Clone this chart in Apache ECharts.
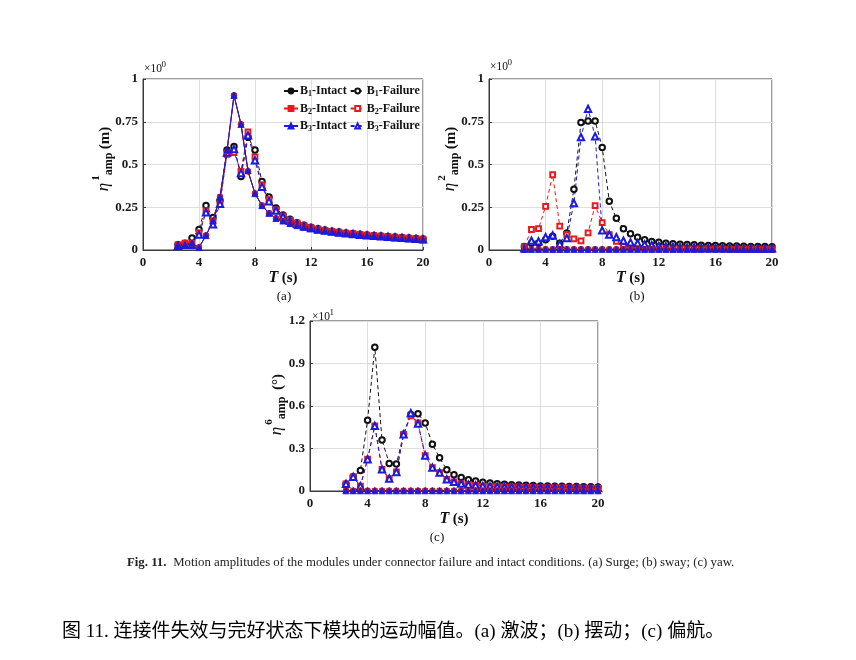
<!DOCTYPE html>
<html><head><meta charset="utf-8">
<script src="https://cdn.jsdelivr.net/npm/echarts@6/dist/echarts.min.js"></script>
<style>html,body{margin:0;padding:0;background:#fff}#c{width:856px;height:660px}</style>
</head><body><div id="c"></div>
<script>
// ---- data ----
const T = [2.5,3,3.5,4,4.5,5,5.5,6,6.5,7,7.5,8,8.5,9,9.5,10,10.5,11,11.5,12,12.5,13,13.5,14,14.5,15,15.5,16,16.5,17,17.5,18,18.5,19,19.5,20];
const xTicks = [0,4,8,12,16,20];
const yTicksAB = [0,0.25,0.5,0.75,1];
const yTicksC = [0,0.3,0.6,0.9,1.2];
const names = ['B1-Intact','B1-Failure','B2-Intact','B2-Failure','B3-Intact','B3-Failure'];

// (a) surge
const aB1I = [0.03,0.03,0.035,0.015,0.085,0.17,0.31,0.58,0.905,0.735,0.46,0.33,0.26,0.215,0.185,0.17,0.155,0.143,0.133,0.125,0.118,0.112,0.106,0.101,0.097,0.093,0.089,0.085,0.082,0.079,0.076,0.071,0.068,0.066,0.063,0.06];
const aB2I = [0.03,0.04,0.035,0.015,0.085,0.17,0.31,0.575,0.9,0.735,0.46,0.33,0.26,0.215,0.185,0.17,0.155,0.143,0.133,0.125,0.118,0.112,0.106,0.101,0.097,0.093,0.089,0.085,0.082,0.079,0.076,0.071,0.068,0.066,0.063,0.06];
const aB3I = [0.03,0.03,0.04,0.015,0.085,0.17,0.31,0.585,0.905,0.735,0.465,0.33,0.26,0.215,0.185,0.17,0.155,0.143,0.133,0.125,0.118,0.112,0.106,0.101,0.097,0.093,0.089,0.085,0.082,0.079,0.076,0.071,0.068,0.066,0.063,0.06];
const aB1F = [0.03,0.04,0.07,0.12,0.26,0.19,0.29,0.585,0.605,0.43,0.66,0.585,0.40,0.31,0.245,0.205,0.18,0.16,0.145,0.133,0.124,0.117,0.11,0.105,0.1,0.096,0.092,0.088,0.085,0.082,0.079,0.076,0.073,0.07,0.067,0.064];
const aB2F = [0.03,0.04,0.04,0.1,0.23,0.17,0.28,0.56,0.57,0.46,0.69,0.545,0.38,0.295,0.235,0.2,0.175,0.157,0.142,0.131,0.122,0.115,0.109,0.104,0.099,0.095,0.091,0.087,0.084,0.081,0.078,0.075,0.072,0.069,0.066,0.063];
const aB3F = [0.025,0.03,0.03,0.09,0.22,0.15,0.27,0.57,0.59,0.45,0.67,0.525,0.37,0.285,0.23,0.195,0.17,0.153,0.139,0.128,0.12,0.113,0.107,0.102,0.097,0.093,0.089,0.086,0.083,0.08,0.077,0.074,0.071,0.068,0.065,0.062];

// (b) sway
const bB1I = [0.004,0.004,0.004,0.004,0.004,0.004,0.004,0.004,0.004,0.004,0.004,0.004,0.004,0.004,0.004,0.004,0.004,0.004,0.004,0.004,0.004,0.004,0.004,0.004,0.004,0.004,0.004,0.004,0.004,0.004,0.004,0.004,0.004,0.004,0.004,0.004];
const bB2I = [0.004,0.004,0.004,0.004,0.004,0.004,0.004,0.004,0.004,0.004,0.004,0.004,0.004,0.004,0.004,0.004,0.004,0.004,0.004,0.004,0.004,0.004,0.004,0.004,0.004,0.004,0.004,0.004,0.004,0.004,0.004,0.004,0.004,0.004,0.004,0.004];
const bB3I = [0.004,0.004,0.004,0.004,0.004,0.004,0.004,0.004,0.004,0.004,0.004,0.004,0.004,0.004,0.004,0.004,0.004,0.004,0.004,0.004,0.004,0.004,0.004,0.004,0.004,0.004,0.004,0.004,0.004,0.004,0.004,0.004,0.004,0.004,0.004,0.004];
const bB1F = [0.02,0.04,0.04,0.06,0.08,0.04,0.1,0.355,0.745,0.755,0.755,0.6,0.285,0.185,0.125,0.095,0.075,0.06,0.05,0.045,0.04,0.037,0.034,0.032,0.03,0.028,0.027,0.026,0.025,0.024,0.023,0.022,0.021,0.02,0.02,0.019];
const bB2F = [0.02,0.12,0.125,0.255,0.44,0.14,0.09,0.065,0.053,0.1,0.26,0.16,0.09,0.05,0.02,0.015,0.012,0.01,0.009,0.008,0.008,0.007,0.007,0.007,0.006,0.006,0.006,0.006,0.006,0.005,0.005,0.005,0.005,0.005,0.005,0.005];
const bB3F = [0.01,0.055,0.05,0.075,0.085,0.035,0.07,0.275,0.66,0.825,0.665,0.115,0.09,0.075,0.055,0.045,0.04,0.033,0.028,0.024,0.021,0.019,0.017,0.016,0.015,0.014,0.013,0.012,0.012,0.011,0.011,0.01,0.01,0.01,0.01,0.01];

// (c) yaw (x10)
const cB1I = [0.002,0.002,0.002,0.002,0.002,0.002,0.002,0.002,0.002,0.002,0.002,0.002,0.002,0.002,0.002,0.002,0.002,0.002,0.002,0.002,0.002,0.002,0.002,0.002,0.002,0.002,0.002,0.002,0.002,0.002,0.002,0.002,0.002,0.002,0.002,0.002];
const cB2I = [0.002,0.002,0.002,0.002,0.002,0.002,0.002,0.002,0.002,0.002,0.002,0.002,0.002,0.002,0.002,0.002,0.002,0.002,0.002,0.002,0.002,0.002,0.002,0.002,0.002,0.002,0.002,0.002,0.002,0.002,0.002,0.002,0.002,0.002,0.002,0.002];
const cB3I = [0.002,0.002,0.002,0.002,0.002,0.002,0.002,0.002,0.002,0.002,0.002,0.002,0.002,0.002,0.002,0.002,0.002,0.002,0.002,0.002,0.002,0.002,0.002,0.002,0.002,0.002,0.002,0.002,0.002,0.002,0.002,0.002,0.002,0.002,0.002,0.002];
const cB1F = [0.05,0.1,0.145,0.5,1.015,0.36,0.195,0.19,0.4,0.54,0.545,0.48,0.33,0.235,0.15,0.115,0.095,0.08,0.07,0.062,0.056,0.052,0.048,0.045,0.042,0.04,0.038,0.036,0.035,0.034,0.033,0.032,0.031,0.03,0.03,0.029];
const cB2F = [0.05,0.1,0.035,0.224,0.46,0.153,0.087,0.134,0.4,0.53,0.48,0.25,0.165,0.13,0.082,0.064,0.052,0.045,0.04,0.035,0.032,0.03,0.029,0.028,0.027,0.026,0.025,0.024,0.024,0.023,0.023,0.022,0.022,0.021,0.021,0.021];
const cB3F = [0.05,0.1,0.035,0.224,0.46,0.153,0.087,0.134,0.4,0.55,0.475,0.25,0.165,0.13,0.082,0.064,0.052,0.045,0.04,0.035,0.032,0.03,0.029,0.028,0.027,0.026,0.025,0.024,0.024,0.023,0.023,0.022,0.022,0.021,0.021,0.021];

// ---- styling ----
const SERIF = '"Liberation Serif","Times New Roman",serif';
const COL = {B1:'#111111', B2:'#e8191c', B3:'#1a1ae0'};
const SHAPE = {B1:'circle', B2:'rect', B3:'triangle'};
const SIZE = {B1:5.5, B2:4.8, B3:6.3};

function pairs(v){ return T.map((t,i)=>[t,v[i]]); }
function mk(name, vals, gi){
  const b = name.slice(0,2), intact = name.indexOf('Intact')>0;
  const c = COL[b];
  return {
    name, type:'line', xAxisIndex:gi, yAxisIndex:gi, data:pairs(vals),
    symbol: intact ? SHAPE[b] : 'empty'+SHAPE[b][0].toUpperCase()+SHAPE[b].slice(1),
    symbolSize: SIZE[b], showAllSymbol:true,
    itemStyle:{color:c, borderColor:c, borderWidth:0.8},
    lineStyle:{color:c, width:1, type: intact?'solid':[4,3]},
    z: intact?3:2, animation:false
  };
}
const panels = [
  {F:[aB1F,aB2F,aB3F], I:[aB1I,aB2I,aB3I]},
  {F:[bB1F,bB2F,bB3F], I:[bB1I,bB2I,bB3I]},
  {F:[cB1F,cB2F,cB3F], I:[cB1I,cB2I,cB3I]}
];
const series = [];
panels.forEach((p,gi)=>{
  ['B1','B2','B3'].forEach((b,k)=>series.push(mk(b+'-Failure', p.F[k], gi)));
  ['B1','B2','B3'].forEach((b,k)=>series.push(mk(b+'-Intact', p.I[k], gi)));
});

const grids = [
  {left:143, top:79, width:280, height:171},
  {left:489, top:79, width:283, height:171},
  {left:310, top:321, width:288, height:170}
].map(g=>Object.assign(g,{show:true, borderColor:'#3a3a3a', borderWidth:1, backgroundColor:'#fff'}));

const tickFont = {fontFamily:SERIF, fontWeight:'bold', fontSize:13, color:'#1a1a1a'};
const xAxes = [0,1,2].map(i=>({
  type:'value', gridIndex:i, min:xTicks[0], max:xTicks[xTicks.length-1], interval:xTicks[1]-xTicks[0],
  axisLine:{show:true, onZero:false, lineStyle:{color:'#3a3a3a'}},
  axisTick:{show:true, inside:true, length:3, lineStyle:{color:'#3a3a3a'}},
  axisLabel:Object.assign({margin:6}, tickFont),
  splitLine:{show:true, lineStyle:{color:'#dedede'}},
  name:'{i|T} {b|(s)}', nameLocation:'middle', nameGap:19,
  nameTextStyle:{verticalAlign:'top', rich:{
    i:{fontFamily:SERIF, fontStyle:'italic', fontWeight:'bold', fontSize:16, color:'#111'},
    b:{fontFamily:SERIF, fontWeight:'bold', fontSize:15, color:'#111'}}}
}));
const yAxes = [0,1,2].map(i=>{
  const tk = i===2?yTicksC:yTicksAB;
  return {
    type:'value', gridIndex:i, min:tk[0], max:tk[tk.length-1], interval:tk[1]-tk[0],
    axisLine:{show:true, lineStyle:{color:'#3a3a3a'}},
    axisTick:{show:true, inside:true, length:3, lineStyle:{color:'#3a3a3a'}},
    axisLabel:Object.assign({margin:5, formatter:v=>String(+v.toFixed(2))}, tickFont),
    splitLine:{show:true, lineStyle:{color:'#dedede'}}
  };
});

function legendFmt(n){ return '{n|B}{s|'+n[1]+'}{n|'+n.slice(2)+'}'; }
const legendRich = {
  n:{fontFamily:SERIF, fontWeight:'bold', fontSize:12, color:'#111', lineHeight:14},
  s:{fontFamily:SERIF, fontWeight:'bold', fontSize:8, color:'#111', lineHeight:8, verticalAlign:'bottom'}
};
const legends = [0,1,2].map(r=>({
  data:[names[2*r], names[2*r+1]], left:283, top:85+r*17.5, orient:'horizontal',
  itemWidth:14, itemHeight:6, itemGap:3, padding:0, selectedMode:false,
  formatter:legendFmt, textStyle:{rich:legendRich, padding:[0,0,0,-3]}
}));

function txt(x,y,text,font,align,extra){
  return Object.assign({type:'text', x, y, silent:true, style:{text, font, fill:'#111',
    align:align||'center', verticalAlign:'middle', textAlign:align||'center', textVerticalAlign:'middle'}}, extra||{});
}
function yLabel(gx, gy, sup, unit){
  return {type:'group', x:gx, y:gy, rotation:Math.PI/2, silent:true, children:[
    txt(-21,-1,'η','italic 17px '+SERIF),
    txt(-12,-9,sup,'bold 11px '+SERIF),
    txt(2,4,'amp','bold 12px '+SERIF),
    txt(28,0,unit,'bold 15px '+SERIF)
  ]};
}
function times10(x,y,e){
  return {type:'group', x, y, silent:true, children:[
    txt(0,0,'×10','11.5px '+SERIF,'left'),
    txt(17.5,-4.5,e,'9px '+SERIF,'left')
  ]};
}

const capCN = '图 11. 连接件失效与完好状态下模块的运动幅值。(a) 激波；(b) 摆动；(c) 偏航。';
const graphic = [
  yLabel(105,166,'1','(m)'),
  yLabel(451,166,'2','(m)'),
  yLabel(278,410,'6','(°)'),
  times10(144,69,'0'),
  times10(490,67,'0'),
  times10(312,317,'1'),
  txt(284,297,'(a)','13px '+SERIF),
  txt(637,297,'(b)','13px '+SERIF),
  txt(437,538,'(c)','13px '+SERIF),
  {type:'text', x:127, y:563, silent:true, style:{
    text:'{b|Fig. 11.}  {n|Motion amplitudes of the modules under connector failure and intact conditions. (a) Surge; (b) sway; (c) yaw.}',
    verticalAlign:'middle', textVerticalAlign:'middle', align:'left', textAlign:'left',
    rich:{b:{fontFamily:SERIF, fontWeight:'bold', fontSize:12.8, fill:'#222'}, n:{fontFamily:SERIF, fontSize:12.8, fill:'#222'}}}},
  txt(62,632,capCN,'19px "Liberation Serif","Noto Sans CJK SC"','left',{style:{
    text:capCN, font:'19px "Liberation Serif","Noto Sans CJK SC"', fill:'#000', align:'left', textAlign:'left', verticalAlign:'middle', textVerticalAlign:'middle'}})
];

const chart = echarts.init(document.getElementById('c'), null, {renderer:'canvas'});
chart.setOption({
  backgroundColor:'#fff', animation:false,
  grid:grids, xAxis:xAxes, yAxis:yAxes, legend:legends, series, graphic
});
</script></body></html>
